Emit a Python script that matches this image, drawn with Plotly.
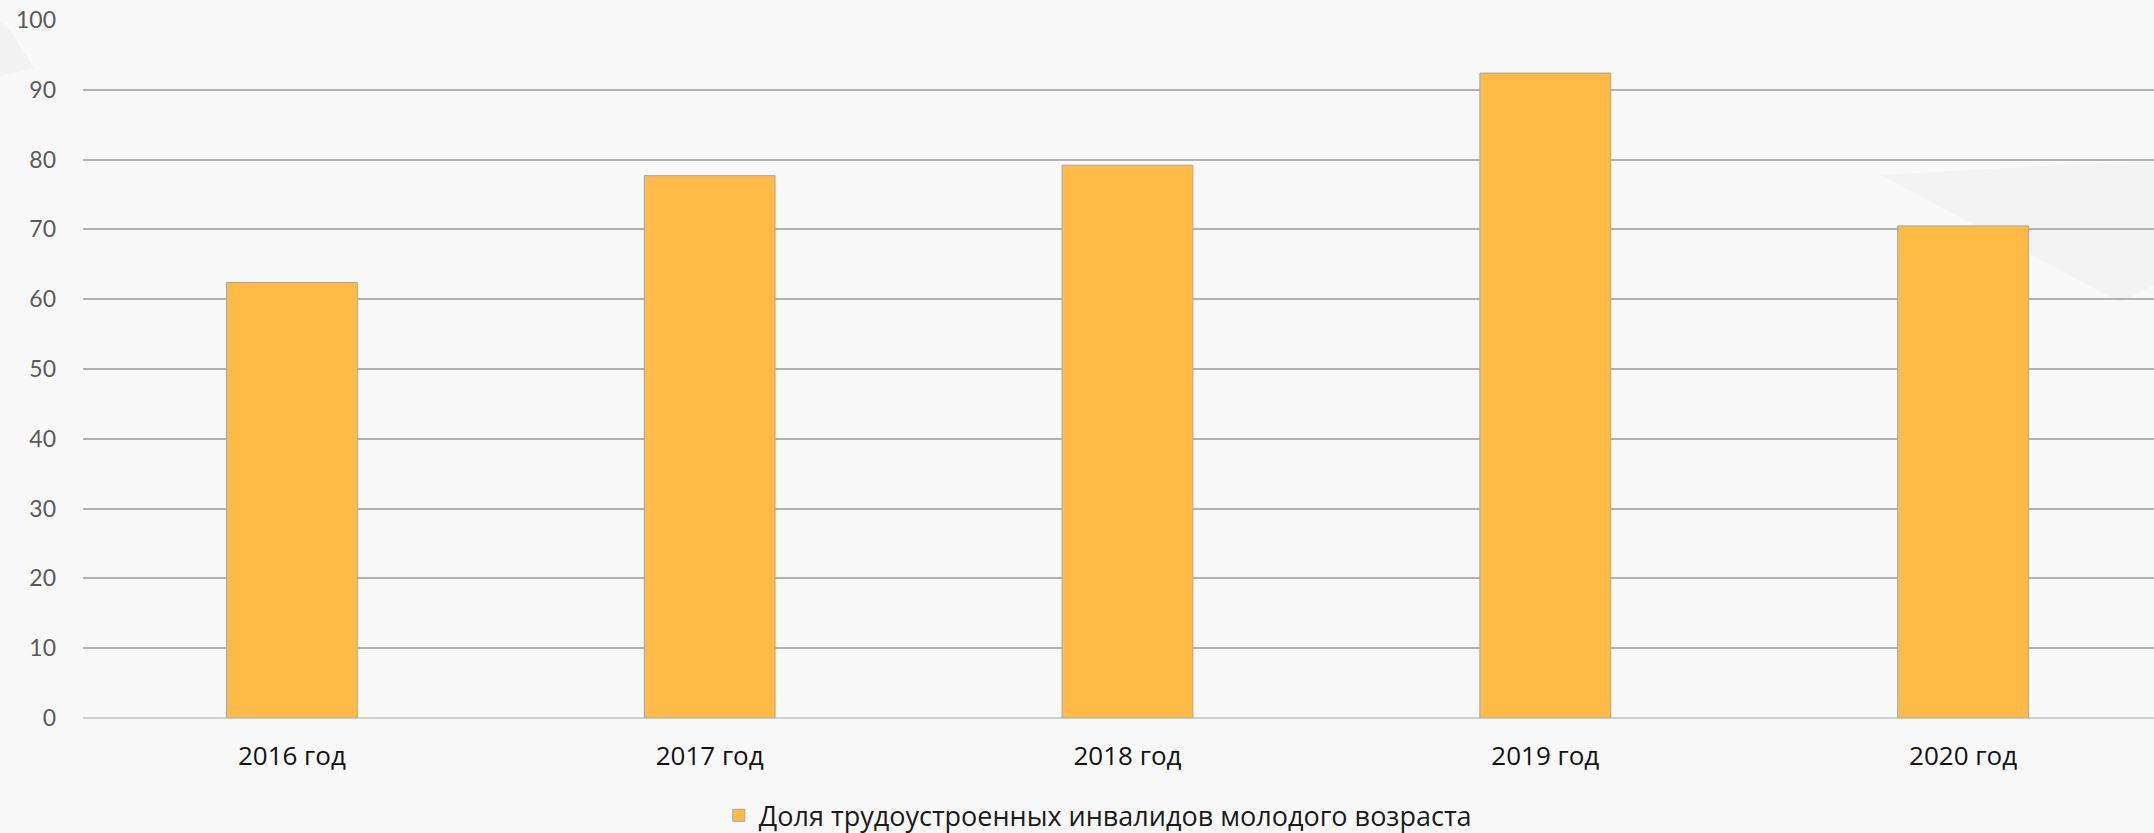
import plotly.graph_objects as go

categories = ["2016 год", "2017 год", "2018 год", "2019 год", "2020 год"]
values = [62.4, 77.7, 79.2, 92.4, 70.5]
series_name = "Доля трудоустроенных инвалидов молодого возраста"
y_ticks = [0, 10, 20, 30, 40, 50, 60, 70, 80, 90, 100]

W, H = 2154, 833
L, T, B, R = 83, 20, 115, 0

fig = go.Figure()
fig.add_trace(go.Bar(
    x=categories, y=values, name=series_name,
    marker=dict(color="#FFBB45", line=dict(color="#A6A6A6", width=1)),
    width=0.313, showlegend=True,
))

def px_path(pts):
    # pixel coords (from top-left of page) -> paper coords
    pw, ph = W - L - R, H - T - B
    s = []
    for i, (x, y) in enumerate(pts):
        xp = (x - L) / pw
        yp = (H - B - y) / ph
        s.append(("M" if i == 0 else "L") + f"{xp:.4f},{yp:.4f}")
    return " ".join(s) + " Z"

shapes = [
    dict(type="path", xref="paper", yref="paper", layer="below",
         path=px_path([(1880, 175), (2154, 160), (2154, 285), (2120, 302)]),
         fillcolor="#F3F3F3", line=dict(width=0)),
    dict(type="path", xref="paper", yref="paper", layer="below",
         path=px_path([(0, 22), (10, 30), (34, 68), (0, 76)]),
         fillcolor="#F2F2F2", line=dict(width=0)),
]

fig.update_layout(
    width=W, height=H,
    margin=dict(l=L, r=R, t=T, b=B, autoexpand=False),
    paper_bgcolor="#F9F9F9", plot_bgcolor="rgba(0,0,0,0)",
    showlegend=True,
    legend=dict(orientation="h", x=0.49, xanchor="center", y=-0.14, yanchor="middle",
                font=dict(family="Open Sans", size=27, color="#1a1a1a"),
                bgcolor="rgba(0,0,0,0)"),
    shapes=shapes,
)
fig.update_xaxes(
    range=[-0.5, 4.457], showgrid=False, showline=False, ticks="",
    tickfont=dict(family="Open Sans", size=26, color="#111111"),
    ticklabelstandoff=20, automargin=False,
)
fig.update_yaxes(
    range=[0, 100], tickvals=y_ticks, ticktext=[str(v) for v in y_ticks],
    showgrid=True, gridcolor="#B2B2B2", gridwidth=1.5,
    zeroline=True, zerolinecolor="#CFCFCF", zerolinewidth=2,
    showline=False, ticks="",
    tickfont=dict(family="Lato", size=23, color="#595959"),
    ticklabelstandoff=26, automargin=False,
)
fig.write_html("out.html", config={"displayModeBar": False},
               post_script="document.body.style.margin='0';document.body.style.overflow='hidden';document.body.style.background='#F9F9F9';")
